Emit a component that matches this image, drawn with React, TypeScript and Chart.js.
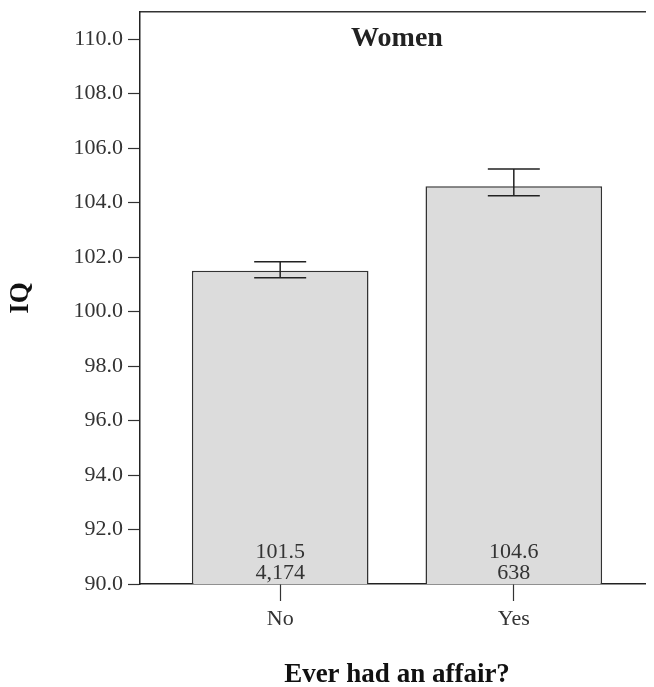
import React, { useEffect, useRef } from 'react';
import { Chart, registerables } from 'chart.js';

Chart.register(...registerables);

// Mean IQ by answer to "Ever had an affair?" (women), with 95% CI and sample size
const categories = ['No', 'Yes'];
const categoryPositions = [1, 2];
const meanIQ = [101.5, 104.6];
const sampleSizes = [4174, 638];
const ciLow = [101.24, 104.25];
const ciHigh = [101.83, 105.24];
const yTicks = [90, 92, 94, 96, 98, 100, 102, 104, 106, 108, 110];

const chartTitle = 'Women';
const xTitle = 'Ever had an affair?';
const yTitle = 'IQ';

const FONT = '"Liberation Serif", "Times New Roman", serif';
const INK = '#222';
const LABEL = '#333';

// Error bars, in-bar labels and the panel title
const overlayPlugin = {
  id: 'overlay',
  afterDatasetsDraw(chart: any) {
    const { ctx, chartArea, scales } = chart;
    const x = scales.x;
    const y = scales.y;
    ctx.save();

    ctx.strokeStyle = INK;
    ctx.lineWidth = 1.5;
    const capHalf = 26;
    categoryPositions.forEach((pos, i) => {
      const cx = x.getPixelForValue(pos);
      const top = y.getPixelForValue(ciHigh[i]);
      const bot = y.getPixelForValue(ciLow[i]);
      ctx.beginPath();
      ctx.moveTo(cx, top);
      ctx.lineTo(cx, bot);
      ctx.moveTo(cx - capHalf, top);
      ctx.lineTo(cx + capHalf, top);
      ctx.moveTo(cx - capHalf, bot);
      ctx.lineTo(cx + capHalf, bot);
      ctx.stroke();
    });

    const base = y.getPixelForValue(y.min);
    ctx.fillStyle = LABEL;
    ctx.font = `22px ${FONT}`;
    ctx.textAlign = 'center';
    ctx.textBaseline = 'alphabetic';
    categoryPositions.forEach((pos, i) => {
      const cx = x.getPixelForValue(pos);
      ctx.fillText(meanIQ[i].toFixed(1), cx, base - 26);
      ctx.fillText(sampleSizes[i].toLocaleString('en-US'), cx, base - 5);
    });

    ctx.fillStyle = INK;
    ctx.font = `bold 28px ${FONT}`;
    ctx.fillText(chartTitle, (chartArea.left + chartArea.right) / 2, chartArea.top + 34);
    ctx.restore();
  },
};

export default function App() {
  const canvasRef = useRef<HTMLCanvasElement | null>(null);

  useEffect(() => {
    const canvas = canvasRef.current;
    if (!canvas) return;

    const chart = new Chart(canvas, {
      type: 'bar',
      data: {
        datasets: [
          {
            data: categoryPositions.map((p, i) => ({ x: p, y: meanIQ[i] })),
            backgroundColor: '#dcdcdc',
            borderColor: '#333',
            borderWidth: 1.5,
            categoryPercentage: 1,
            barPercentage: 0.756,
          },
        ],
      },
      options: {
        animation: false,
        responsive: false,
        maintainAspectRatio: false,
        layout: { padding: { top: 4, left: 0, right: 0, bottom: 0 } },
        plugins: {
          legend: { display: false },
          tooltip: { enabled: false },
          title: { display: false },
        },
        scales: {
          x: {
            type: 'linear',
            position: 'bottom',
            min: 0.4,
            max: 2.6,
            offset: false,
            afterBuildTicks: (s: any) => {
              s.ticks = categoryPositions.map((v) => ({ value: v }));
            },
            afterFit: (s: any) => {
              s.height = 103;
              s.paddingLeft = 0;
              s.paddingRight = 0;
            },
            ticks: {
              autoSkip: false,
              maxRotation: 0,
              padding: 5,
              color: LABEL,
              font: { family: FONT, size: 22 },
              callback: (v: any) => {
                const idx = categoryPositions.indexOf(Number(v));
                return idx >= 0 ? categories[idx] : '';
              },
            },
            grid: {
              display: true,
              offset: false,
              drawOnChartArea: false,
              drawTicks: true,
              tickLength: 17,
              tickColor: LABEL,
              tickWidth: 1.2,
            },
            border: { display: true, color: INK, width: 1.5 },
            title: {
              display: true,
              text: xTitle,
              color: '#111',
              padding: 0,
              font: { family: FONT, size: 27, weight: 'bold', lineHeight: 0.85 },
            },
          },
          xTop: {
            type: 'linear',
            position: 'top',
            min: 0.4,
            max: 2.6,
            ticks: { display: false },
            grid: { display: false },
            border: { display: true, color: '#333', width: 1.5 },
            afterFit: (s: any) => {
              s.height = 0;
              s.paddingLeft = 0;
              s.paddingRight = 0;
            },
          },
          y: {
            type: 'linear',
            min: 90,
            max: 111,
            afterBuildTicks: (s: any) => {
              s.ticks = yTicks.map((v) => ({ value: v }));
            },
            afterFit: (s: any) => {
              s.width = 132;
              s.paddingTop = 0;
              s.paddingBottom = 0;
            },
            ticks: {
              padding: 5,
              color: LABEL,
              font: { family: FONT, size: 22 },
              callback: (v: any) => Number(v).toFixed(1),
            },
            grid: {
              display: true,
              drawOnChartArea: false,
              drawTicks: true,
              tickLength: 12,
              tickColor: LABEL,
              tickWidth: 1.2,
            },
            border: { display: true, color: INK, width: 1.5 },
            title: {
              display: true,
              text: yTitle,
              color: '#111',
              padding: 0,
              font: { family: FONT, size: 27, weight: 'bold', lineHeight: 1 },
            },
          },
        },
      } as any,
      plugins: [overlayPlugin],
    });

    return () => chart.destroy();
  }, []);

  return (
    <div style={{ width: 646, height: 679, overflow: 'hidden' }}>
      <canvas ref={canvasRef} width={646} height={679} style={{ display: 'block' }} />
    </div>
  );
}
